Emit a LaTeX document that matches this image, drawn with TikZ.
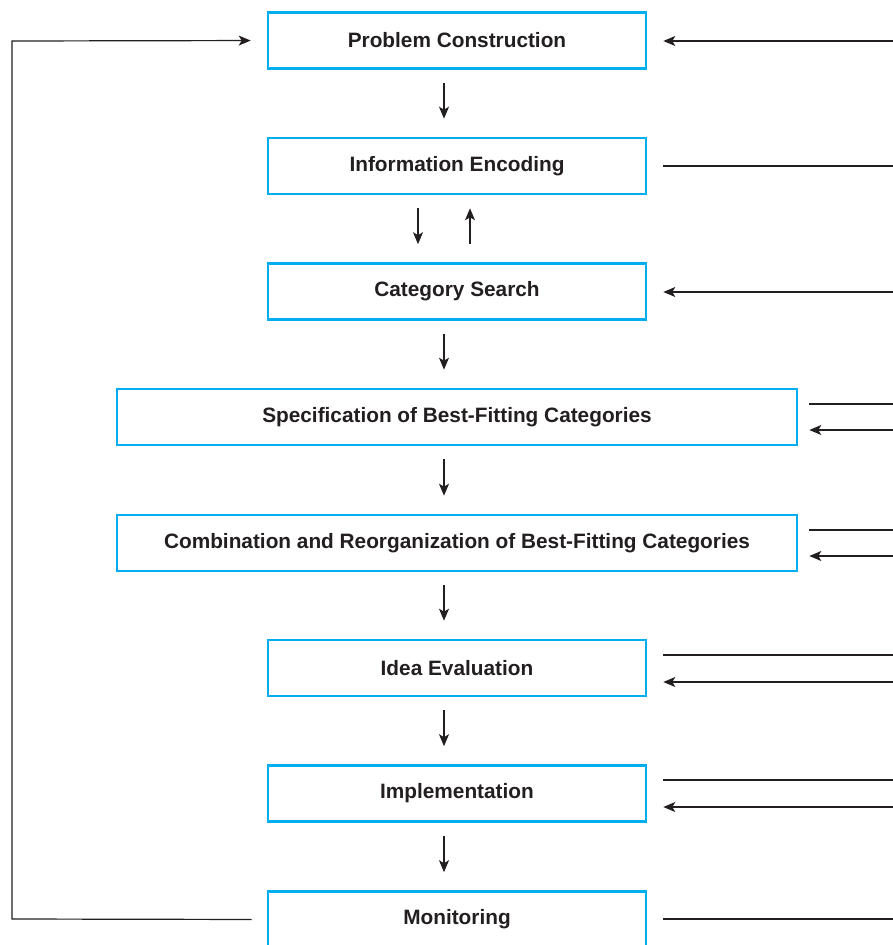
\documentclass[tikz,border=0pt]{standalone}
\usepackage{fontspec}
\setmainfont{Liberation Sans}
\usetikzlibrary{arrows.meta}
\definecolor{boxblue}{RGB}{0,174,239}
\definecolor{ink}{RGB}{35,31,32}
\begin{document}
\begin{tikzpicture}[x=1pt,y=-1pt,
  stagebox/.style={draw=boxblue, line width=2.6pt, fill=white, minimum height=56pt,
    inner sep=0pt, font=\fontsize{20.8}{24}\selectfont\bfseries, text=ink},
  narrow/.style={stagebox, minimum width=378pt},
  wide/.style={stagebox, minimum width=680pt},
  flow/.style={draw=ink, line width=1.2pt, -{Stealth[length=12pt,width=10pt,inset=3pt]}},
  plain/.style={draw=ink, line width=1.2pt}]
\useasboundingbox (0,0) rectangle (893,945);

% process stages
\node[narrow] (pc)  at (457,40.5)  {Problem Construction};
\node[narrow] (ie)  at (457,166)   {Information Encoding};
\node[narrow] (cs)  at (457,291.5) {Category Search};
\node[wide]   (sp)  at (457,417)   {Specification of Best-Fitting Categories};
\node[wide]   (cr)  at (457,543)   {Combination and Reorganization of Best-Fitting Categories};
\node[narrow] (ev)  at (457,668)   {Idea Evaluation};
\node[narrow] (im)  at (457,793.5) {Implementation};
\node[narrow] (mo)  at (457,919.5) {Monitoring};

% downward flow between stages
\path[flow, shorten <=13pt, shorten >=18pt] ([xshift=-13pt]pc.south) -- ([xshift=-13pt]ie.north);
\path[flow, shorten <=13pt, shorten >=18pt] ([xshift=-39pt]ie.south) -- ([xshift=-39pt]cs.north);
\path[flow, shorten <=18pt, shorten >=13pt] ([xshift=13pt]cs.north) -- ([xshift=13pt]ie.south);
\path[flow, shorten <=13pt, shorten >=18pt] ([xshift=-13pt]cs.south) -- ([xshift=-13pt]sp.north);
\path[flow, shorten <=13pt, shorten >=18pt] ([xshift=-13pt]sp.south) -- ([xshift=-13pt]cr.north);
\path[flow, shorten <=13pt, shorten >=18pt] ([xshift=-13pt]cr.south) -- ([xshift=-13pt]ev.north);
\path[flow, shorten <=13pt, shorten >=18pt] ([xshift=-13pt]ev.south) -- ([xshift=-13pt]im.north);
\path[flow, shorten <=13pt, shorten >=18pt] ([xshift=-13pt]im.south) -- ([xshift=-13pt]mo.north);

% feedback loop on the left
\coordinate (loopbot) at (12,919);
\coordinate (looptop) at (12,41);
\path[flow, shorten <=15pt, shorten >=16pt] (mo.west) -- (loopbot) -- (looptop) -- (pc.west);

% links to the right margin
\coordinate (r1)  at (893,41);
\coordinate (r2)  at (893,166);
\coordinate (r3)  at (893,292);
\coordinate (r4a) at (893,404);
\coordinate (r4b) at (893,430);
\coordinate (r5a) at (893,530);
\coordinate (r5b) at (893,556);
\coordinate (r6a) at (893,655);
\coordinate (r6b) at (893,682);
\coordinate (r7a) at (893,780);
\coordinate (r7b) at (893,807);
\coordinate (r8)  at (893,919);

\path[flow, shorten >=16pt] (r1) -- (r1 -| pc.east);
\path[plain, shorten <=16pt] (r2 -| ie.east) -- (r2);
\path[flow, shorten >=16pt] (r3) -- (r3 -| cs.east);
\path[plain, shorten <=11pt] (r4a -| sp.east) -- (r4a);
\path[flow, shorten >=11pt] (r4b) -- (r4b -| sp.east);
\path[plain, shorten <=11pt] (r5a -| cr.east) -- (r5a);
\path[flow, shorten >=11pt] (r5b) -- (r5b -| cr.east);
\path[plain, shorten <=16pt] (r6a -| ev.east) -- (r6a);
\path[flow, shorten >=16pt] (r6b) -- (r6b -| ev.east);
\path[plain, shorten <=16pt] (r7a -| im.east) -- (r7a);
\path[flow, shorten >=16pt] (r7b) -- (r7b -| im.east);
\path[plain, shorten <=16pt] (r8 -| mo.east) -- (r8);
\end{tikzpicture}
\end{document}
